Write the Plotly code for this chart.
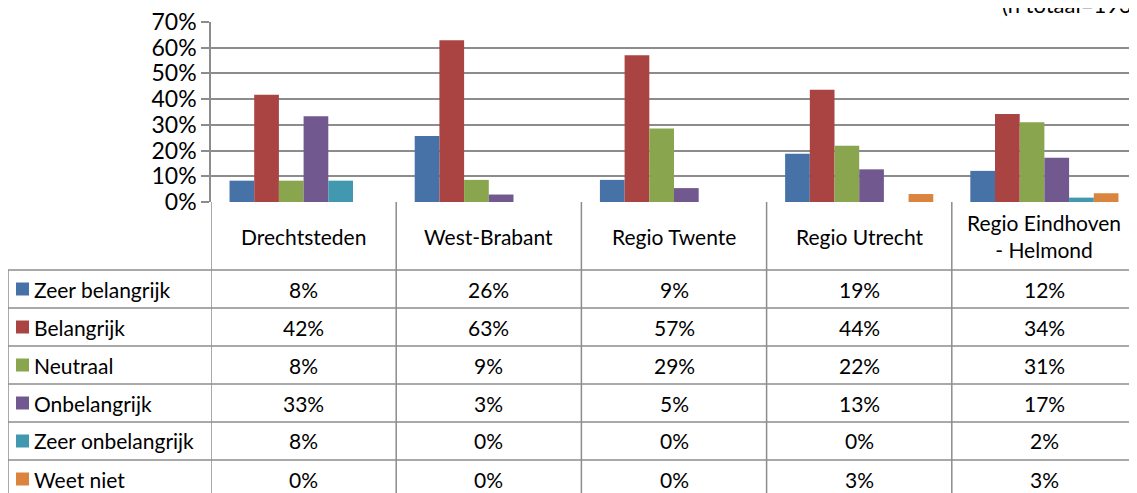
import plotly.graph_objects as go

categories = ["Drechtsteden", "West-Brabant", "Regio Twente", "Regio Utrecht", "Regio Eindhoven<br>- Helmond"]
series_names = ["Zeer belangrijk", "Belangrijk", "Neutraal", "Onbelangrijk", "Zeer onbelangrijk", "Weet niet"]
colors = ["#4672A8", "#A94442", "#89A54E", "#71588F", "#4198AF", "#DB843D"]

zeer_belangrijk = [0.083, 0.257, 0.086, 0.188, 0.121]
belangrijk = [0.417, 0.629, 0.571, 0.437, 0.342]
neutraal = [0.083, 0.086, 0.286, 0.219, 0.310]
onbelangrijk = [0.333, 0.029, 0.054, 0.127, 0.172]
zeer_onbelangrijk = [0.083, 0.0, 0.0, 0.0, 0.017]
weet_niet = [0.0, 0.0, 0.0, 0.031, 0.034]
series_values = [zeer_belangrijk, belangrijk, neutraal, onbelangrijk, zeer_onbelangrijk, weet_niet]

y_ticks = [0, 0.1, 0.2, 0.3, 0.4, 0.5, 0.6, 0.7]
note = "(n totaal=193)"

OFF = 8  # default page body margin
W, H = 1137 - OFF, 493 - OFF
# plot-area edges in screen pixels
SL, ST, SB, SR = 211, 22, 202, 1137
L, T, B, R = SL - OFF, ST - OFF, SB - OFF, SR - OFF
FONT = "Lato"
GRID = "#8C8C8C"
TFS = 21  # table font size


def px(X):  # screen x -> paper
    return (X - SL) / (SR - SL)


def py(Y):  # screen y -> paper
    return (SB - Y) / (SB - ST)


fig = go.Figure()
x_idx = list(range(len(categories)))
for name, vals, col in zip(series_names, series_values, colors):
    fig.add_trace(go.Bar(x=x_idx, y=vals, name=name, marker=dict(color=col, line=dict(width=0)),
                         showlegend=False))

shapes = []
annotations = []

header_bottom = 270
row_h = 38
rows_top = [header_bottom + i * row_h for i in range(len(series_names))]
bottom = 500
for i in range(len(categories) + 1):
    shapes.append(dict(type="line", xref="x", yref="paper", x0=i - 0.5, x1=i - 0.5,
                       y0=py(SB), y1=py(bottom), line=dict(color=GRID, width=1.5)))
shapes.append(dict(type="line", xref="paper", yref="paper", x0=px(8), x1=px(8),
                   y0=py(header_bottom), y1=py(bottom), line=dict(color=GRID, width=1.5)))
for yt in rows_top:
    shapes.append(dict(type="line", xref="paper", yref="paper", x0=px(8), x1=1.01,
                       y0=py(yt), y1=py(yt), line=dict(color=GRID, width=1.5)))

for i, c in enumerate(categories):
    annotations.append(dict(x=i, y=py((SB + header_bottom) / 2), xref="x", yref="paper",
                            text=c, showarrow=False, font=dict(family=FONT, size=TFS, color="#000000"),
                            xanchor="center", yanchor="middle", align="center"))


def pct(v):
    return f"{int(v * 100 + 0.5)}%"


for r, (name, vals, col) in enumerate(zip(series_names, series_values, colors)):
    yc = rows_top[r] + row_h / 2
    shapes.append(dict(type="rect", xref="paper", yref="paper", x0=px(16), x1=px(29),
                       y0=py(yc - 6.5), y1=py(yc + 6.5), fillcolor=col, line=dict(width=0)))
    annotations.append(dict(x=px(32), y=py(yc), xref="paper", yref="paper", text=name,
                            showarrow=False, xanchor="left", yanchor="middle",
                            font=dict(family=FONT, size=TFS, color="#000000")))
    for i, v in enumerate(vals):
        annotations.append(dict(x=i, y=py(yc), xref="x", yref="paper", text=pct(v),
                                showarrow=False, xanchor="center", yanchor="middle",
                                font=dict(family=FONT, size=TFS, color="#000000")))

annotations.append(dict(x=px(1000), y=py(5), xref="paper", yref="paper", text=note, showarrow=False,
                        xanchor="left", yanchor="middle", font=dict(family=FONT, size=22, color="#000000")))

fig.update_layout(
    width=W, height=H,
    margin=dict(l=L, r=max(W - R, 0), t=T, b=H - B, pad=0),
    paper_bgcolor="white", plot_bgcolor="white",
    barmode="group", bargap=0.2, bargroupgap=0,
    xaxis=dict(range=[-0.5, len(categories) - 0.5], showticklabels=False, showgrid=False,
               zeroline=False, showline=False, ticks=""),
    yaxis=dict(range=[0, 0.7], tickvals=y_ticks, tickformat=".0%", showgrid=True, gridcolor=GRID,
               gridwidth=1.5, zeroline=False, showline=True, linecolor=GRID, linewidth=1.5,
               ticks="outside", ticklen=8, tickcolor=GRID, tickwidth=1.5, ticklabeloverflow="allow",
               tickfont=dict(family=FONT, size=23, color="#000000")),
    shapes=shapes, annotations=annotations,
)

fig.write_html("out.html")
